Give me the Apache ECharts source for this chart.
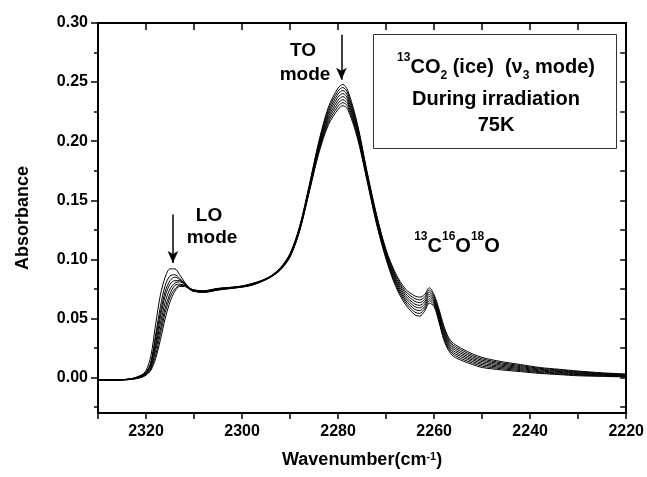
<!DOCTYPE html>
<html>
<head>
<meta charset="utf-8">
<script src="https://cdn.jsdelivr.net/npm/echarts@6.0.0/dist/echarts.min.js"></script>
<style>
  html, body { margin: 0; padding: 0; background: #fff; }
  #chart { width: 647px; height: 477px; }
</style>
</head>
<body>
<div id="chart"></div>
<script>
// wavenumber (cm-1) samples, shared by all spectra
var wavenumber = [2330, 2326, 2323, 2321, 2320, 2319, 2318, 2317, 2316, 2315, 2314, 2313, 2312, 2311, 2310, 2308, 2305, 2302, 2300, 2298, 2296, 2294, 2292, 2290, 2288, 2286, 2284, 2282, 2280, 2279, 2278, 2276, 2274, 2272, 2270, 2268, 2266, 2264, 2263, 2262, 2261, 2260, 2259, 2258, 2257, 2256, 2254, 2252, 2250, 2246, 2242, 2238, 2234, 2230, 2225, 2220];

// absorbance, spectra recorded during irradiation (first -> last)
var abs1 = [-0.002, -0.002, -0.001, 0.002, 0.006, 0.018, 0.045, 0.070, 0.085, 0.092, 0.092, 0.087, 0.081, 0.076, 0.074, 0.0735, 0.0755, 0.0765, 0.0775, 0.0795, 0.082, 0.086, 0.093, 0.105, 0.128, 0.163, 0.200, 0.229, 0.245, 0.248, 0.243, 0.215, 0.175, 0.138, 0.108, 0.088, 0.075, 0.069, 0.068, 0.070, 0.076, 0.070, 0.058, 0.044, 0.034, 0.029, 0.024, 0.020, 0.017, 0.0135, 0.011, 0.0085, 0.007, 0.0055, 0.004, 0.003];
var abs2 = [-0.002, -0.002, -0.001, 0.002, 0.0045, 0.013, 0.036, 0.060, 0.078, 0.086, 0.087, 0.084, 0.080, 0.076, 0.074, 0.0733, 0.0753, 0.0764, 0.0774, 0.0793, 0.0819, 0.0859, 0.0927, 0.1046, 0.1274, 0.1621, 0.1986, 0.2269, 0.2424, 0.2454, 0.2407, 0.2133, 0.1739, 0.1369, 0.1069, 0.0864, 0.0731, 0.0667, 0.0657, 0.068, 0.0741, 0.0686, 0.0564, 0.0423, 0.0324, 0.0274, 0.0226, 0.0187, 0.0158, 0.0125, 0.0101, 0.0078, 0.0064, 0.0049, 0.0036, 0.0026];
var abs3 = [-0.002, -0.002, -0.001, 0.0015, 0.004, 0.012, 0.033, 0.055, 0.073, 0.082, 0.085, 0.083, 0.080, 0.076, 0.074, 0.0731, 0.0751, 0.0762, 0.0772, 0.0791, 0.0817, 0.0857, 0.0924, 0.1041, 0.1269, 0.1613, 0.1971, 0.2247, 0.2399, 0.2429, 0.2384, 0.2116, 0.1727, 0.1357, 0.1057, 0.0849, 0.0713, 0.0644, 0.0634, 0.066, 0.0723, 0.0671, 0.0549, 0.0406, 0.0309, 0.0259, 0.0211, 0.0174, 0.0146, 0.0115, 0.0093, 0.0071, 0.0057, 0.0044, 0.0031, 0.0023];
var abs4 = [-0.002, -0.002, -0.001, 0.0012, 0.0037, 0.011, 0.029, 0.051, 0.069, 0.079, 0.082, 0.082, 0.079, 0.075, 0.073, 0.0729, 0.0749, 0.0761, 0.0771, 0.0789, 0.0816, 0.0856, 0.0921, 0.1037, 0.1263, 0.1604, 0.1957, 0.2226, 0.2373, 0.2403, 0.2361, 0.2099, 0.1716, 0.1346, 0.1046, 0.0833, 0.0694, 0.0621, 0.0611, 0.064, 0.0704, 0.0657, 0.0533, 0.0389, 0.0293, 0.0243, 0.0197, 0.0161, 0.0134, 0.0105, 0.0084, 0.0064, 0.0051, 0.0038, 0.0027, 0.0019];
var abs5 = [-0.002, -0.002, -0.001, 0.001, 0.0033, 0.0095, 0.026, 0.046, 0.064, 0.075, 0.080, 0.081, 0.079, 0.075, 0.073, 0.0726, 0.0746, 0.0759, 0.0769, 0.0786, 0.0814, 0.0854, 0.0919, 0.1033, 0.1257, 0.1596, 0.1943, 0.2204, 0.2347, 0.2377, 0.2339, 0.2081, 0.1704, 0.1334, 0.1034, 0.0817, 0.0676, 0.0599, 0.0589, 0.062, 0.0686, 0.0643, 0.0517, 0.0371, 0.0277, 0.0227, 0.0183, 0.0149, 0.0121, 0.0095, 0.0076, 0.0056, 0.0044, 0.0032, 0.0023, 0.0016];
var abs6 = [-0.002, -0.002, -0.0015, 0.0007, 0.0028, 0.0083, 0.023, 0.041, 0.059, 0.071, 0.078, 0.079, 0.078, 0.075, 0.073, 0.0724, 0.0744, 0.0758, 0.0768, 0.0784, 0.0813, 0.0853, 0.0916, 0.1029, 0.1251, 0.1587, 0.1929, 0.2183, 0.2321, 0.2351, 0.2316, 0.2064, 0.1693, 0.1323, 0.1023, 0.0801, 0.0657, 0.0576, 0.0566, 0.060, 0.0667, 0.0629, 0.0501, 0.0354, 0.0261, 0.0211, 0.0169, 0.0136, 0.0109, 0.0085, 0.0067, 0.0049, 0.0038, 0.0026, 0.0019, 0.0012];
var abs7 = [-0.002, -0.002, -0.0015, 0.0003, 0.0024, 0.0072, 0.019, 0.037, 0.055, 0.068, 0.075, 0.078, 0.078, 0.075, 0.073, 0.0722, 0.0742, 0.0756, 0.0766, 0.0782, 0.0811, 0.0851, 0.0913, 0.1024, 0.1246, 0.1579, 0.1914, 0.2161, 0.2296, 0.2326, 0.2293, 0.2047, 0.1681, 0.1311, 0.1011, 0.0786, 0.0639, 0.0553, 0.0543, 0.058, 0.0649, 0.0614, 0.0486, 0.0337, 0.0246, 0.0196, 0.0154, 0.0123, 0.0097, 0.0075, 0.0059, 0.0042, 0.0031, 0.0021, 0.0014, 0.0009];
var abs8 = [-0.002, -0.002, -0.0015, 0, 0.002, 0.006, 0.016, 0.032, 0.050, 0.064, 0.073, 0.077, 0.077, 0.075, 0.073, 0.072, 0.074, 0.0755, 0.0765, 0.078, 0.081, 0.085, 0.091, 0.102, 0.124, 0.157, 0.190, 0.214, 0.227, 0.230, 0.227, 0.203, 0.167, 0.130, 0.100, 0.077, 0.062, 0.053, 0.052, 0.056, 0.063, 0.060, 0.047, 0.032, 0.023, 0.018, 0.014, 0.011, 0.0085, 0.0065, 0.005, 0.0035, 0.0025, 0.0015, 0.001, 0.0005];

// axis ticks / labels
var xLabels = [2320, 2300, 2280, 2260, 2240, 2220];
var yLabels = [0, 0.05, 0.10, 0.15, 0.20, 0.25, 0.30];
var yMinorTicks = [-0.025, 0.025, 0.075, 0.125, 0.175, 0.225, 0.275];
var yAllTicks = [-0.025, 0, 0.025, 0.05, 0.075, 0.10, 0.125, 0.15, 0.175, 0.20, 0.225, 0.25, 0.275, 0.30];

// arrows: [wavenumber, from, to]
var loArrow = [2314.4, 0.138, 0.097];
var toArrow = [2279.3, 0.290, 0.252];

var FONT = '"Liberation Sans", Arial, sans-serif';

var spectra = [abs1, abs2, abs3, abs4, abs5, abs6, abs7, abs8];
var series = [];
for (var s = 0; s < spectra.length; s++) {
    var pts = [];
    for (var i = 0; i < wavenumber.length; i++) {
        pts.push([wavenumber[i], spectra[s][i]]);
    }
    series.push({
        type: 'line',
        data: pts,
        xAxisIndex: 0,
        yAxisIndex: 0,
        symbol: 'none',
        smooth: 0.3,
        silent: true,
        lineStyle: { color: '#000', width: 1 }
    });
}
series[0].markLine = {
    silent: true,
    symbol: ['none', 'arrow'],
    symbolSize: [8, 12],
    label: { show: false },
    lineStyle: { color: '#000', width: 1.5, type: 'solid' },
    data: [
        [{ coord: [loArrow[0], loArrow[1]] }, { coord: [loArrow[0], loArrow[2]] }],
        [{ coord: [toArrow[0], toArrow[1]] }, { coord: [toArrow[0], toArrow[2]] }]
    ]
};

var axisLine = { show: true, onZero: false, lineStyle: { color: '#000', width: 2 } };

var chart = echarts.init(document.getElementById('chart'));
chart.setOption({
    animation: false,
    backgroundColor: '#fff',
    grid: { left: 98, right: 18, top: 23, bottom: 64 },
    xAxis: [
        {
            type: 'value', position: 'bottom', min: 2220, max: 2330, interval: 10, inverse: true,
            axisLine: axisLine,
            axisTick: { show: true, inside: false, length: 6, lineStyle: { color: '#000', width: 1.5 } },
            axisLabel: {
                customValues: xLabels, margin: 11, color: '#000', fontSize: 16, fontWeight: 'bold', fontFamily: FONT,
                formatter: function (v) { return String(v); }
            },
            splitLine: { show: false },
            name: 'Wavenumber(cm{sup|-1})',
            nameLocation: 'middle',
            nameGap: 38,
            nameTextStyle: {
                color: '#000', fontSize: 18, fontWeight: 'bold', fontFamily: FONT,
                rich: { sup: { fontSize: 11, fontWeight: 'bold', fontFamily: FONT, verticalAlign: 'top', lineHeight: 10 } }
            }
        },
        {
            type: 'value', position: 'top', min: 2220, max: 2330, interval: 10, inverse: true,
            axisLine: axisLine,
            axisTick: { show: true, inside: true, length: 7, lineStyle: { color: '#000', width: 1.5 } },
            axisLabel: { show: false },
            splitLine: { show: false }
        }
    ],
    yAxis: [
        {
            type: 'value', position: 'left', min: -0.03, max: 0.30,
            axisLine: axisLine,
            axisTick: { show: true, inside: false, length: 7, customValues: yLabels, lineStyle: { color: '#000', width: 1.5 } },
            axisLabel: {
                customValues: yLabels, margin: 10, color: '#000', fontSize: 16, fontWeight: 'bold', fontFamily: FONT,
                formatter: function (v) { return v.toFixed(2); }
            },
            splitLine: { show: false },
            name: 'Absorbance',
            nameLocation: 'middle',
            nameGap: 66,
            nameTextStyle: { color: '#000', fontSize: 18, fontWeight: 'bold', fontFamily: FONT }
        },
        {
            type: 'value', position: 'left', min: -0.03, max: 0.30,
            axisLine: { show: false },
            axisTick: { show: true, inside: false, length: 4, customValues: yMinorTicks, lineStyle: { color: '#000', width: 1.5 } },
            axisLabel: { show: false },
            splitLine: { show: false }
        },
        {
            type: 'value', position: 'right', min: -0.03, max: 0.30,
            axisLine: axisLine,
            axisTick: { show: true, inside: true, length: 6, customValues: yAllTicks, lineStyle: { color: '#000', width: 1.5 } },
            axisLabel: { show: false },
            splitLine: { show: false }
        }
    ],
    series: series,
    graphic: [
        {
            type: 'rect', z: 50,
            shape: { x: 373.5, y: 34.5, width: 243, height: 114 },
            style: { fill: '#fff', stroke: '#333', lineWidth: 1 }
        },
        {
            type: 'text', z: 51, x: 496, y: 67,
            style: {
                text: '{sup|13}CO{sub|2} (ice)  (ν{sub|3} mode)',
                font: 'bold 20px ' + FONT, fill: '#000', align: 'center', verticalAlign: 'middle', lineHeight: 30,
                rich: {
                    sup: { fontSize: 12, fontWeight: 'bold', fontFamily: FONT, verticalAlign: 'top', lineHeight: 12 },
                    sub: { fontSize: 12, fontWeight: 'bold', fontFamily: FONT, verticalAlign: 'bottom', lineHeight: 12 }
                }
            }
        },
        {
            type: 'text', z: 51, x: 496, y: 99,
            style: { text: 'During irradiation', font: 'bold 20px ' + FONT, fill: '#000', align: 'center', verticalAlign: 'middle' }
        },
        {
            type: 'text', z: 51, x: 496, y: 125,
            style: { text: '75K', font: 'bold 20px ' + FONT, fill: '#000', align: 'center', verticalAlign: 'middle' }
        },
        {
            type: 'text', x: 209, y: 216,
            style: { text: 'LO', font: 'bold 19px ' + FONT, fill: '#000', align: 'center', verticalAlign: 'middle' }
        },
        {
            type: 'text', x: 212, y: 238,
            style: { text: 'mode', font: 'bold 19px ' + FONT, fill: '#000', align: 'center', verticalAlign: 'middle' }
        },
        {
            type: 'text', x: 303, y: 51,
            style: { text: 'TO', font: 'bold 19px ' + FONT, fill: '#000', align: 'center', verticalAlign: 'middle' }
        },
        {
            type: 'text', x: 305, y: 75,
            style: { text: 'mode', font: 'bold 19px ' + FONT, fill: '#000', align: 'center', verticalAlign: 'middle' }
        },
        {
            type: 'text', x: 457, y: 246,
            style: {
                text: '{sup|13}C{sup|16}O{sup|18}O',
                font: 'bold 20px ' + FONT, fill: '#000', align: 'center', verticalAlign: 'middle', lineHeight: 30,
                rich: {
                    sup: { fontSize: 12, fontWeight: 'bold', fontFamily: FONT, verticalAlign: 'top', lineHeight: 12 }
                }
            }
        }
    ]
});
window.onresize = chart.resize;
</script>
</body>
</html>
